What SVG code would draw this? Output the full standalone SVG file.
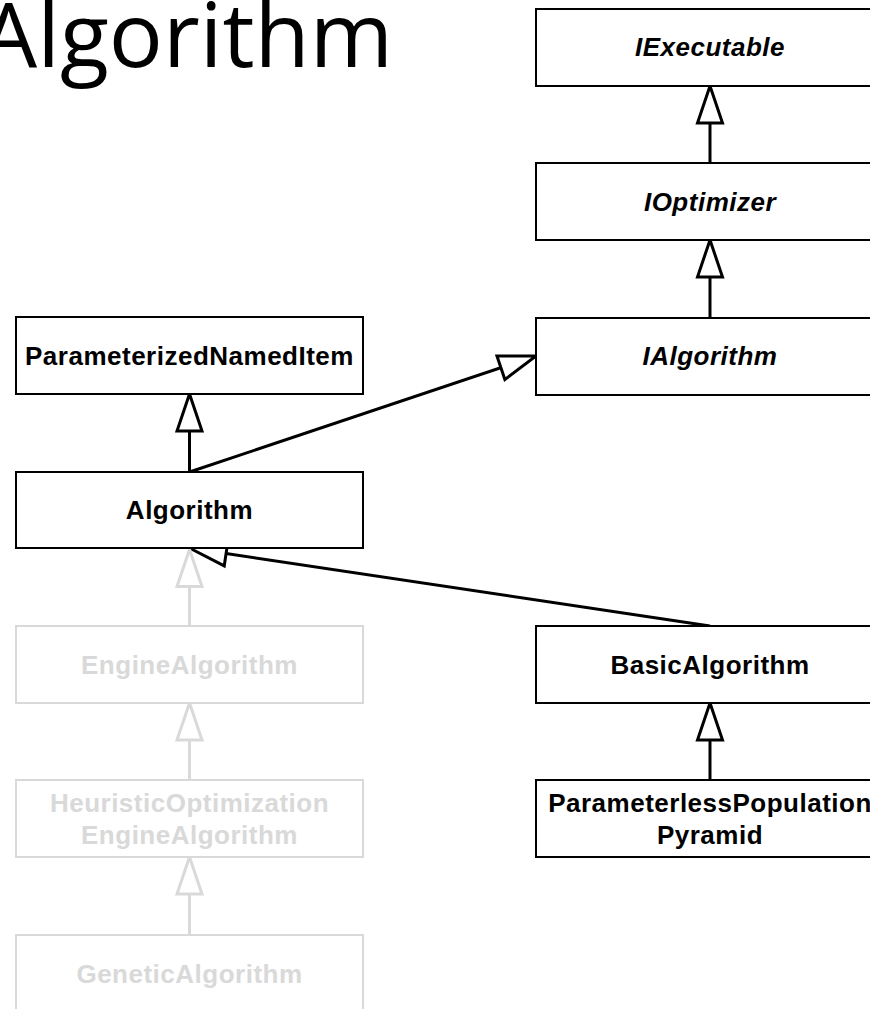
<svg xmlns="http://www.w3.org/2000/svg" width="870" height="1009" viewBox="0 0 870 1009">
<style>
.box{fill:#fff;stroke:#000;stroke-width:2}
.gbox{fill:#fff;stroke:#d9d9d9;stroke-width:2}
.lbl{font-family:"Liberation Sans",Arial,sans-serif;font-weight:bold;font-size:26px;letter-spacing:0.5px;text-anchor:middle;fill:#000}
.it{font-style:italic}
.glbl{fill:#d9d9d9}
.con{fill:none;stroke:#000;stroke-width:3}
.gcon{fill:none;stroke:#d9d9d9;stroke-width:3}
.title{font-family:"Open Sans","Noto Sans",sans-serif;font-size:90px;fill:#000;text-anchor:end}
</style>
<defs>
<marker id="tri" markerUnits="userSpaceOnUse" markerWidth="44" markerHeight="32" refX="39" refY="15" orient="auto" overflow="visible">
<path d="M39,15 L2,2.5 L2,27.5 Z" fill="#fff" stroke="#000" stroke-width="3" stroke-linejoin="miter"/>
</marker>
<marker id="gtri" markerUnits="userSpaceOnUse" markerWidth="44" markerHeight="32" refX="39" refY="15" orient="auto" overflow="visible">
<path d="M39,15 L2,2.5 L2,27.5 Z" fill="#fff" stroke="#d9d9d9" stroke-width="3" stroke-linejoin="miter"/>
</marker>
</defs>
<rect width="870" height="1009" fill="#fff"/>
<text class="title" x="393" y="67">Algorithm</text>

<g id="connectors">
<line class="con" x1="710" y1="163" x2="710" y2="86" marker-end="url(#tri)"/>
<line class="con" x1="710" y1="318" x2="710" y2="240" marker-end="url(#tri)"/>
<line class="con" x1="189.5" y1="472" x2="189.5" y2="394" marker-end="url(#tri)"/>
<line class="con" x1="189.5" y1="472" x2="536" y2="356" marker-end="url(#tri)"/>
<line class="con" x1="710" y1="626" x2="189.5" y2="548" marker-end="url(#tri)"/>
<line class="con" x1="710" y1="780" x2="710" y2="703" marker-end="url(#tri)"/>
<line class="gcon" x1="189.5" y1="626" x2="189.5" y2="549.5" marker-end="url(#gtri)"/>
<line class="gcon" x1="189.5" y1="780" x2="189.5" y2="703" marker-end="url(#gtri)"/>
<line class="gcon" x1="189.5" y1="935" x2="189.5" y2="857" marker-end="url(#gtri)"/>
</g>

<g id="IExecutable">
<rect class="box" x="536" y="9" width="348" height="77"/>
<text class="lbl it" x="710" y="56">IExecutable</text>
</g>
<g id="IOptimizer">
<rect class="box" x="536" y="163" width="348" height="77"/>
<text class="lbl it" x="710" y="211">IOptimizer</text>
</g>
<g id="IAlgorithm">
<rect class="box" x="536" y="318" width="348" height="77"/>
<text class="lbl it" x="710" y="365">IAlgorithm</text>
</g>
<g id="ParameterizedNamedItem">
<rect class="box" x="16" y="317" width="347" height="77"/>
<text class="lbl" x="189.5" y="365">ParameterizedNamedItem</text>
</g>
<g id="Algorithm">
<rect class="box" x="16" y="472" width="347" height="76"/>
<text class="lbl" x="189.5" y="519">Algorithm</text>
</g>
<g id="BasicAlgorithm">
<rect class="box" x="536" y="626" width="348" height="77"/>
<text class="lbl" x="710" y="674">BasicAlgorithm</text>
</g>
<g id="ParameterlessPopulationPyramid">
<rect class="box" x="536" y="780" width="348" height="77"/>
<text class="lbl" x="710" y="812">ParameterlessPopulation</text>
<text class="lbl" x="710" y="844">Pyramid</text>
</g>
<g id="EngineAlgorithm">
<rect class="gbox" x="16" y="626" width="347" height="77"/>
<text class="lbl glbl" x="189.5" y="674">EngineAlgorithm</text>
</g>
<g id="HeuristicOptimizationEngineAlgorithm">
<rect class="gbox" x="16" y="780" width="347" height="77"/>
<text class="lbl glbl" x="189.5" y="812">HeuristicOptimization</text>
<text class="lbl glbl" x="189.5" y="844">EngineAlgorithm</text>
</g>
<g id="GeneticAlgorithm">
<rect class="gbox" x="16" y="935" width="347" height="80"/>
<text class="lbl glbl" x="189.5" y="983">GeneticAlgorithm</text>
</g>
</svg>
